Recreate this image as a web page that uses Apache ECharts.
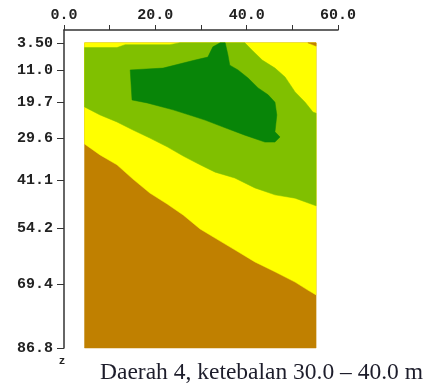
<!DOCTYPE html>
<html>
<head>
<meta charset="utf-8">
<script src="https://cdn.jsdelivr.net/npm/echarts@6/dist/echarts.min.js"></script>
<style>
    html, body {margin: 0; padding: 0; background: #fff;}
    #chart {width: 431px; height: 385px;}
</style>
</head>
<body>
<div id="chart"></div>
<script>
/** 刻度 */
var xTicks = [0, 10, 20, 30, 40, 50, 60];
var depthTicks = [3.5, 11.0, 19.7, 29.6, 41.1, 54.2, 69.4, 86.8];
var depthLabels = ['3.50', '11.0', '19.7', '29.6', '41.1', '54.2', '69.4', '86.8'];

/** 剖面范围 */
var xLeft = 4.5, xRight = 55.2, dTop = 3.5, dBottom = 86.8;

/** 上方左侧黄色细条下边界 */
var topStrip = [[4.5, 4.8], [11.6, 4.8], [13.4, 4.0], [23.2, 4.0], [25.4, 3.5]];
/** 右上黄色区边界 (从顶边到右边) */
var rightYellow = [[39.6, 3.5], [41.2, 5.5], [43.4, 8.2], [46.2, 10.4], [48.4, 12.8],
    [50.6, 16.9], [52.8, 19.7], [54.5, 22.4], [55.2, 22.7]];
/** 绿/黄 边界 */
var greenYellow = [[4.5, 21.0], [7.9, 23.2], [11.6, 25.1], [15.1, 27.3], [18.8, 29.5],
    [22.6, 31.9], [26.1, 34.4], [29.8, 36.8], [33.1, 38.8], [37.4, 40.4], [41.8, 43.1],
    [46.2, 45.0], [50.6, 45.9], [55.2, 48.0]];
/** 黄/褐 边界 */
var yellowBrown = [[4.5, 31.1], [7.9, 34.1], [11.6, 36.8], [15.1, 40.7], [18.8, 44.5],
    [22.6, 47.5], [26.1, 50.5], [29.8, 54.3], [33.1, 56.8], [37.4, 60.0], [41.8, 63.3],
    [46.2, 66.0], [50.6, 68.8], [53.4, 71.0], [55.2, 72.3]];
/** 深绿区 */
var darkGreen = [[14.5, 10.9], [21.7, 10.4], [28.7, 8.2], [31.5, 7.4], [32.6, 4.6],
    [34.2, 3.5], [35.3, 3.5], [35.9, 6.8], [36.3, 9.6], [38.1, 10.9], [40.3, 13.1],
    [42.5, 15.8], [44.7, 17.7], [46.2, 19.7], [46.6, 23.2], [46.2, 27.8], [47.3, 29.2],
    [46.2, 30.6], [44.0, 30.6], [39.6, 28.7], [35.3, 26.7], [30.9, 24.6], [28.7, 23.7],
    [23.9, 21.8], [18.2, 19.9], [14.9, 19.1]];
/** 右上角褐色 */
var brownCorner = [[53.4, 3.5], [55.2, 3.5], [55.2, 4.4]];

var caption = 'Daerah 4, ketebalan 30.0 \u2013 40.0 m';

var brownPoly = [[xLeft, dTop], [xRight, dTop], [xRight, dBottom], [xLeft, dBottom]];
var yellowPoly = [[xLeft, dTop], [xRight, dTop]].concat(yellowBrown.slice().reverse());
var greenPoly = topStrip.concat(rightYellow, greenYellow.slice().reverse());

function polygonSeries(points, color) {
    return {
        type: 'custom',
        coordinateSystem: 'cartesian2d',
        data: [0],
        silent: true,
        renderItem: function (params, api) {
            var pts = points.map(function (p) {
                return api.coord(p);
            });
            return {
                type: 'polygon',
                shape: {points: pts},
                style: {fill: color, stroke: color, lineWidth: 0.5}
            };
        }
    };
}

var axisColor = '#333';
var labelFont = {fontFamily: 'Liberation Mono', fontWeight: 'bold', fontSize: 15, color: '#222'};
var chart = echarts.init(document.getElementById('chart'));
chart.setOption({
    animation: false,
    title: {
        text: caption,
        left: 95,
        top: 356,
        textStyle: {fontFamily: 'Liberation Serif', fontSize: 23.5, fontWeight: 'normal', color: '#1d1d2b'}
    },
    grid: {left: 64, top: 30, right: 93, bottom: 37},
    xAxis: {
        type: 'value',
        position: 'top',
        min: 0,
        max: 60,
        interval: 10,
        splitLine: {show: false},
        axisLine: {show: true, lineStyle: {color: axisColor, width: 1.5}},
        axisTick: {show: true, length: 5, lineStyle: {color: axisColor}},
        axisLabel: Object.assign({
            margin: 7,
            formatter: function (v) {
                return xTicks.indexOf(v) >= 0 && v % 20 === 0 ? v.toFixed(1) : '';
            }
        }, labelFont)
    },
    yAxis: {
        type: 'value',
        inverse: true,
        min: 0,
        max: dBottom,
        splitLine: {show: false},
        name: 'z',
        nameLocation: 'end',
        nameGap: 6,
        nameTextStyle: {fontFamily: 'Liberation Mono', fontWeight: 'bold', fontSize: 11, color: '#222', padding: [0, 4, 0, 0]},
        axisLine: {show: true, lineStyle: {color: axisColor, width: 1.5}},
        axisTick: {show: true, length: 7, customValues: depthTicks, lineStyle: {color: axisColor}},
        axisLabel: Object.assign({
            margin: 11,
            customValues: depthTicks,
            formatter: function (v) {
                var i = depthTicks.indexOf(v);
                return i >= 0 ? depthLabels[i] : '';
            }
        }, labelFont)
    },
    series: [
        polygonSeries(brownPoly, '#c08000'),
        polygonSeries(yellowPoly, '#ffff00'),
        polygonSeries(greenPoly, '#80c000'),
        polygonSeries(darkGreen, '#088508'),
        polygonSeries(brownCorner, '#c08000')
    ]
});
</script>
</body>
</html>
